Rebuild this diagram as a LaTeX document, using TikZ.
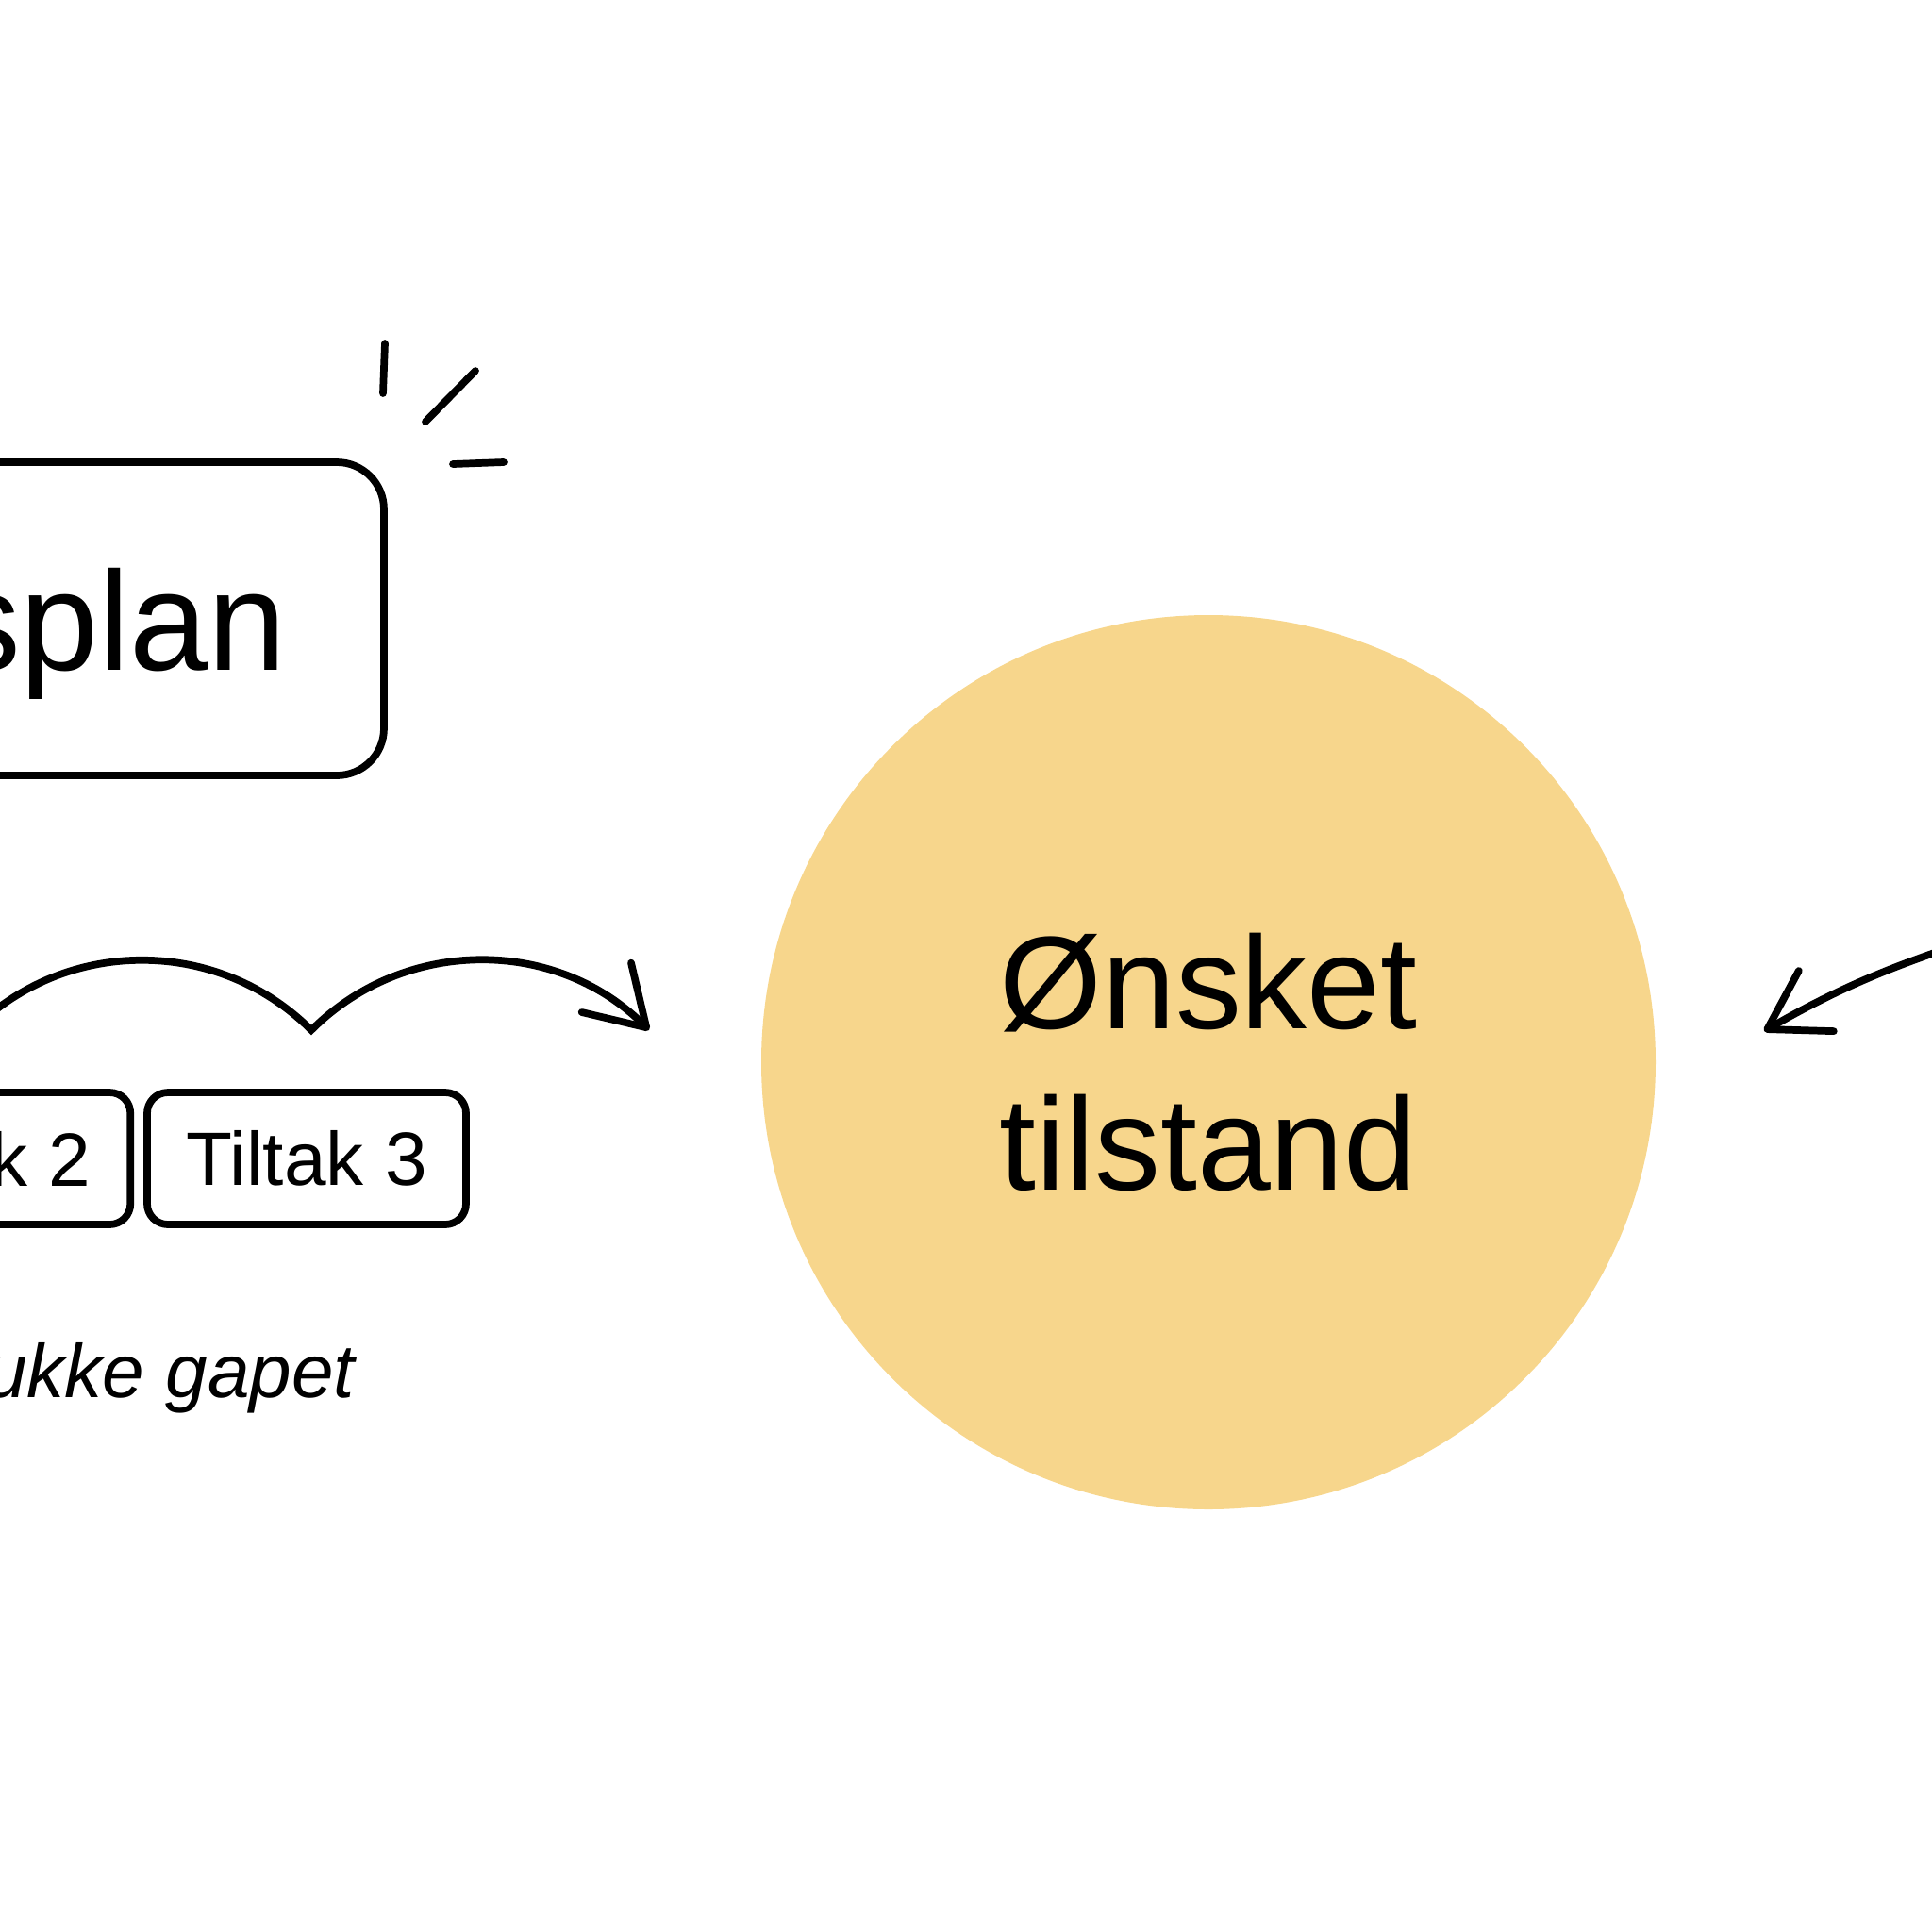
\documentclass[tikz,border=0pt]{standalone}
\usepackage{fontspec}
\setmainfont{Liberation Sans}
\usetikzlibrary{arrows.meta,positioning}
\definecolor{goalyellow}{RGB}{247,214,140}

\begin{document}
\begin{tikzpicture}[>={Straight Barb[length=6mm,width=7.4mm,round]},line width=2.2pt,line cap=round,
  planbox/.style={draw,rounded corners=5mm,minimum width=6cm,minimum height=3.32cm,inner sep=0pt},
  tiltakbox/.style={draw,rounded corners=2.2mm,minimum width=3.38cm,minimum height=1.40cm,inner sep=0pt,font=\fontsize{22.8}{26}\selectfont},
  cuttext/.style={anchor=base east,inner sep=0pt}]
\useasboundingbox (0,0) rectangle (20.48,-20.48);
\node[planbox] (plan) at (1.07,-6.56) {};
\node[cuttext,font=\fontsize{42.5}{50}\selectfont] (plantxt) at (3.08,-7.10) {splan};
\draw (4.08,-3.64) -- (4.06,-4.17);
\draw (5.04,-3.93) -- (4.51,-4.47);
\draw (4.80,-4.92) -- (5.34,-4.90);
\node[circle,fill=goalyellow,minimum size=9.48cm,align=center,font=\fontsize{39.8}{48.7}\selectfont] (goal) at (12.81,-11.26) {Ønsket\\tilstand};
\node[tiltakbox] (tiltak3) at (3.25,-12.28) {Tiltak 3};
\node[tiltakbox] (tiltak2) [left=0.1cm of tiltak3] {};
\node[cuttext,font=\fontsize{22.8}{26}\selectfont] (tiltak2txt) at (1.00,-12.57) {k 2};
\node[cuttext,font=\fontsize{22.8}{26}\selectfont\itshape] (gaptxt) at (3.80,-14.81) {ukke gapet};
\coordinate (humpstart) at (-0.29,-10.92);
\coordinate (cusp) at (3.30,-10.92);
\coordinate (leftin) at (6.88,-10.92);
\draw[->] (humpstart) to[out=45,in=135] (cusp) to[out=45,in=135] (leftin);
\coordinate (rightstart) at (21.5,-9.77);
\coordinate (rightin) at (18.70,-10.93);
\draw[->] (rightstart) to[out=198,in=30] (rightin);
\end{tikzpicture}
\end{document}
